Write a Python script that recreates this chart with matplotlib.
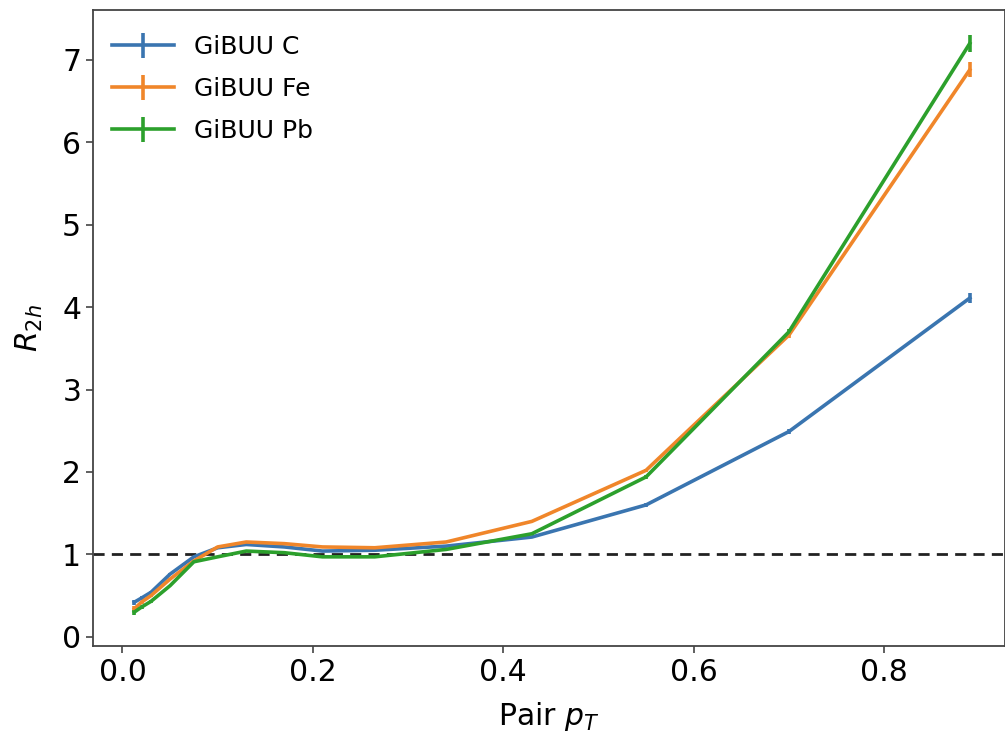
import matplotlib
matplotlib.use("Agg")
import matplotlib.pyplot as plt

pair_pt = [0.0125, 0.02, 0.03, 0.05, 0.075, 0.1, 0.13, 0.17, 0.21, 0.265, 0.34, 0.43, 0.55, 0.70, 0.89]

r2h_C = [0.42, 0.47, 0.54, 0.76, 0.97, 1.08, 1.12, 1.09, 1.04, 1.05, 1.10, 1.21, 1.60, 2.49, 4.11]
err_C = [0.03, 0.02, 0.02, 0.01, 0.01, 0.01, 0.01, 0.01, 0.01, 0.01, 0.01, 0.01, 0.02, 0.03, 0.06]

r2h_Fe = [0.34, 0.42, 0.50, 0.70, 0.92, 1.09, 1.15, 1.13, 1.09, 1.08, 1.15, 1.40, 2.02, 3.66, 6.88]
err_Fe = [0.03, 0.02, 0.02, 0.01, 0.01, 0.01, 0.01, 0.01, 0.01, 0.01, 0.01, 0.01, 0.02, 0.04, 0.09]

r2h_Pb = [0.30, 0.36, 0.43, 0.62, 0.91, 0.97, 1.04, 1.02, 0.97, 0.97, 1.06, 1.25, 1.94, 3.70, 7.20]
err_Pb = [0.03, 0.02, 0.02, 0.01, 0.01, 0.01, 0.01, 0.01, 0.01, 0.01, 0.01, 0.01, 0.02, 0.04, 0.10]

labels = ["GiBUU C", "GiBUU Fe", "GiBUU Pb"]
colors = ["#3a75b0", "#f0862a", "#2ca02c"]

fig = plt.figure(figsize=(10.05, 7.38), dpi=100)
ax = fig.add_axes([0.0925, 0.125, 0.9075, 0.8615])

for y, e, lab, c in zip([r2h_C, r2h_Fe, r2h_Pb], [err_C, err_Fe, err_Pb], labels, colors):
    ax.errorbar(pair_pt, y, yerr=e, color=c, lw=2.6, elinewidth=2.6, label=lab)

ax.axhline(1.0, color="#222222", ls=(0, (4, 2.6)), lw=2.0)

ax.set_xlim(-0.031, 0.927)
ax.set_ylim(-0.109, 7.606)
ax.set_xticks([0.0, 0.2, 0.4, 0.6, 0.8])
ax.set_yticks(range(0, 8))
ax.tick_params(labelsize=21.5, length=5, width=1.2, color="#444444")
for s in ax.spines.values():
    s.set_color("#444444")
    s.set_linewidth(1.3)

ax.set_xlabel("Pair $p_T$", fontsize=21.5, labelpad=10)
ax.set_ylabel("$R_{2h}$", fontsize=21.5, labelpad=12)

ax.legend(loc="upper left", frameon=False, fontsize=18, handlelength=2.5,
          labelspacing=0.72, borderaxespad=0.6, handletextpad=0.8,
          bbox_to_anchor=(-0.007, 1.0))

fig.savefig("out.png", dpi=100)
